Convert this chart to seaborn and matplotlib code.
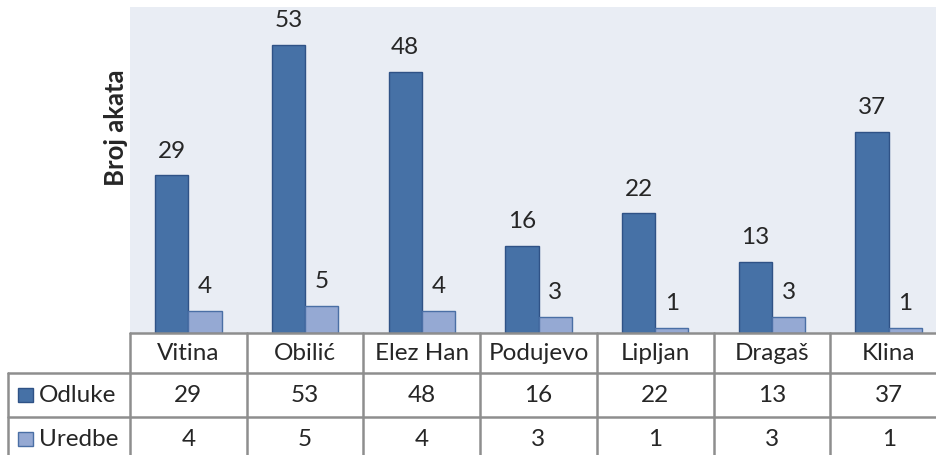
import pandas as pd
import seaborn as sns
import matplotlib.pyplot as plt
from matplotlib.patches import Rectangle
from matplotlib.lines import Line2D

opstine = ["Vitina", "Obilić", "Elez Han", "Podujevo", "Lipljan", "Dragaš", "Klina"]
odluke = [29, 53, 48, 16, 22, 13, 37]
uredbe = [4, 5, 4, 3, 1, 3, 1]
serije = ["Odluke", "Uredbe"]

df = pd.DataFrame({
    "Opština": opstine * 2,
    "Serija": [serije[0]] * len(opstine) + [serije[1]] * len(opstine),
    "Broj": odluke + uredbe,
})

sns.set_style("white")
plt.rcParams["font.family"] = ["Lato", "DejaVu Sans"]

fill = {"Odluke": "#4671A6", "Uredbe": "#95A9D3"}
edge = {"Odluke": "#2F5286", "Uredbe": "#4A6FA5"}
grid_c = "#8E8E8E"
fs = 17.5

fig = plt.figure(figsize=(9.36, 4.55), dpi=100)
ax = fig.add_axes([130 / 936, 1 - 333 / 455, 817 / 936, 326 / 455])
ax.set_facecolor("#E9EDF4")

sns.barplot(data=df, x="Opština", y="Broj", hue="Serija", palette=fill,
            width=0.57, ax=ax, legend=False, saturation=1)
for cont, s in zip(ax.containers, serije):
    for p in cont:
        p.set_edgecolor(edge[s])
        p.set_linewidth(1)
    ax.bar_label(cont, fontsize=fs, padding=10)

ax.set_ylim(0, 60)
ax.set_xlim(-0.5, len(opstine) - 0.5)
ax.set_xticks([])
ax.set_yticks([])
ax.set_xlabel("")
ax.set_ylabel("Broj akata", fontsize=18.5, fontweight="bold")
ax.yaxis.set_label_coords(-0.002, 0.63)
for sp in ax.spines.values():
    sp.set_visible(False)

# data table below the plot
tr = ax.get_xaxis_transform()
rows = [0, -40 / 326, -84 / 326, -128 / 326, -140 / 326]
n = len(opstine)
lw = 1.8
xl = -0.5 - 122 / 116.7
ax.add_line(Line2D([-0.5, n - 0.5], [rows[0]] * 2, transform=tr, color=grid_c, lw=lw, clip_on=False))
for r in rows[1:3]:
    ax.add_line(Line2D([xl, n - 0.5], [r] * 2, transform=tr, color=grid_c, lw=lw, clip_on=False))
for i in range(n + 1):
    ax.add_line(Line2D([i - 0.5] * 2, [rows[0], rows[4]], transform=tr, color=grid_c, lw=lw, clip_on=False))
ax.add_line(Line2D([xl] * 2, [rows[1], rows[4]], transform=tr, color=grid_c, lw=lw, clip_on=False))

for i, name in enumerate(opstine):
    ax.text(i, (rows[0] + rows[1]) / 2, name, transform=tr, ha="center", va="center",
            fontsize=fs, clip_on=False)
    ax.text(i, (rows[1] + rows[2]) / 2, str(odluke[i]), transform=tr, ha="center", va="center",
            fontsize=fs, clip_on=False)
    ax.text(i, (rows[2] + rows[3]) / 2, str(uredbe[i]), transform=tr, ha="center", va="center",
            fontsize=fs, clip_on=False)

for k, s in enumerate(serije):
    yc = (rows[1 + k] + rows[2 + k]) / 2
    ax.add_patch(Rectangle((xl + 10 / 116.7, yc - 7 / 326), 15 / 116.7, 14 / 326, transform=tr,
                           facecolor=fill[s], edgecolor=edge[s], lw=1, clip_on=False))
    ax.text(xl + 31 / 116.7, yc, s, transform=tr, ha="left", va="center", fontsize=fs, clip_on=False)

fig.savefig("out.png", dpi=100)
